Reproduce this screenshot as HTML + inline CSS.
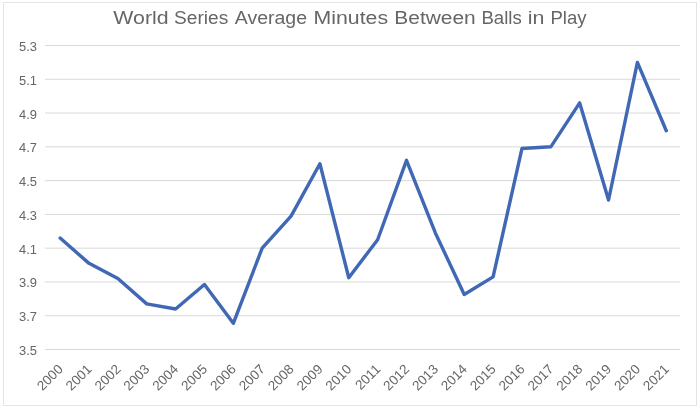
<!DOCTYPE html>
<html><head><meta charset="utf-8"><style>
html,body{margin:0;padding:0;background:#fff;}
body{width:700px;height:410px;overflow:hidden;}
svg{display:block;filter:blur(0.3px);}
text{font-family:"Liberation Sans",sans-serif;fill:#666666;}
</style></head><body>
<svg width="700" height="410" viewBox="0 0 700 410">
<rect x="0" y="0" width="700" height="410" fill="#fff"/>
<rect x="3.5" y="2.5" width="693" height="403" fill="none" stroke="#E4E4E4" stroke-width="1"/>
<g font-size="18.5" fill="#656565"><text transform="translate(113.30 23.5) scale(1.1529 1)">World</text><text transform="translate(174.07 23.5) scale(1.0325 1)">Series</text><text transform="translate(234.80 23.5) scale(1.0539 1)">Average</text><text transform="translate(313.57 23.5) scale(1.1504 1)">Minutes</text><text transform="translate(394.30 23.5) scale(1.1321 1)">Between</text><text transform="translate(481.39 23.5) scale(1.0079 1)">Balls</text><text transform="translate(527.75 23.5) scale(1.1583 1)">in</text><text transform="translate(550.40 23.5) scale(1.0029 1)">Play</text></g>
<g stroke="#D9D9D9" stroke-width="1"><line x1="45" x2="680" y1="349.50" y2="349.50"/><line x1="45" x2="680" y1="315.72" y2="315.72"/><line x1="45" x2="680" y1="281.94" y2="281.94"/><line x1="45" x2="680" y1="248.16" y2="248.16"/><line x1="45" x2="680" y1="214.38" y2="214.38"/><line x1="45" x2="680" y1="180.60" y2="180.60"/><line x1="45" x2="680" y1="146.82" y2="146.82"/><line x1="45" x2="680" y1="113.04" y2="113.04"/><line x1="45" x2="680" y1="79.26" y2="79.26"/><line x1="45" x2="680" y1="45.48" y2="45.48"/></g>
<g font-size="13.6" text-anchor="end"><text transform="translate(37 355.00) scale(0.95 1)">3.5</text><text transform="translate(37 321.22) scale(0.95 1)">3.7</text><text transform="translate(37 287.44) scale(0.95 1)">3.9</text><text transform="translate(37 253.66) scale(0.95 1)">4.1</text><text transform="translate(37 219.88) scale(0.95 1)">4.3</text><text transform="translate(37 186.10) scale(0.95 1)">4.5</text><text transform="translate(37 152.32) scale(0.95 1)">4.7</text><text transform="translate(37 118.54) scale(0.95 1)">4.9</text><text transform="translate(37 84.76) scale(0.95 1)">5.1</text><text transform="translate(37 50.98) scale(0.95 1)">5.3</text></g>
<g font-size="13.5" text-anchor="end"><text x="63.73" y="370.00" transform="rotate(-45 63.73 370.00)">2000</text><text x="92.60" y="370.00" transform="rotate(-45 92.60 370.00)">2001</text><text x="121.46" y="370.00" transform="rotate(-45 121.46 370.00)">2002</text><text x="150.32" y="370.00" transform="rotate(-45 150.32 370.00)">2003</text><text x="179.19" y="370.00" transform="rotate(-45 179.19 370.00)">2004</text><text x="208.05" y="370.00" transform="rotate(-45 208.05 370.00)">2005</text><text x="236.91" y="370.00" transform="rotate(-45 236.91 370.00)">2006</text><text x="265.78" y="370.00" transform="rotate(-45 265.78 370.00)">2007</text><text x="294.64" y="370.00" transform="rotate(-45 294.64 370.00)">2008</text><text x="323.50" y="370.00" transform="rotate(-45 323.50 370.00)">2009</text><text x="352.37" y="370.00" transform="rotate(-45 352.37 370.00)">2010</text><text x="381.23" y="370.00" transform="rotate(-45 381.23 370.00)">2011</text><text x="410.10" y="370.00" transform="rotate(-45 410.10 370.00)">2012</text><text x="438.96" y="370.00" transform="rotate(-45 438.96 370.00)">2013</text><text x="467.82" y="370.00" transform="rotate(-45 467.82 370.00)">2014</text><text x="496.69" y="370.00" transform="rotate(-45 496.69 370.00)">2015</text><text x="525.55" y="370.00" transform="rotate(-45 525.55 370.00)">2016</text><text x="554.41" y="370.00" transform="rotate(-45 554.41 370.00)">2017</text><text x="583.28" y="370.00" transform="rotate(-45 583.28 370.00)">2018</text><text x="612.14" y="370.00" transform="rotate(-45 612.14 370.00)">2019</text><text x="641.00" y="370.00" transform="rotate(-45 641.00 370.00)">2020</text><text x="669.87" y="370.00" transform="rotate(-45 669.87 370.00)">2021</text></g>
<polyline points="60.13,238.03 89.00,263.36 117.86,278.56 146.72,303.90 175.59,308.96 204.45,284.47 233.31,323.32 262.18,248.16 291.04,216.07 319.90,163.71 348.77,277.72 377.63,239.71 406.50,160.33 435.36,232.96 464.22,294.44 493.09,276.87 521.95,148.51 550.81,146.82 579.68,102.91 608.54,200.02 637.40,62.37 666.27,130.77" fill="none" stroke="#4068B4" stroke-width="3.4" stroke-linejoin="round" stroke-linecap="round"/>
</svg>
</body></html>
